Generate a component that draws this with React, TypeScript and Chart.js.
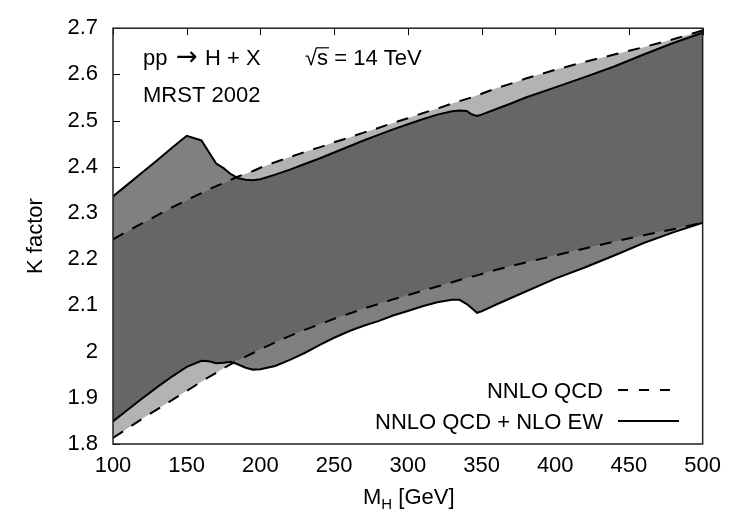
import React, { useEffect, useRef } from "react";
import { Chart, registerables } from "chart.js";

Chart.register(...registerables);

// Higgs mass grid (GeV)
const massGrid = [100, 110, 120, 130, 140, 150, 160, 165, 170, 175, 180, 185, 190, 195, 200, 210, 220, 230, 240, 250, 260, 270, 280, 290, 300, 310, 320, 330, 335, 340, 343, 347, 350, 360, 370, 380, 400, 420, 440, 460, 480, 500];

// NNLO QCD band (dashed)
const nnloUpper = [2.243, 2.261, 2.278, 2.295, 2.312, 2.328, 2.343, 2.351, 2.358, 2.365, 2.372, 2.379, 2.385, 2.391, 2.398, 2.410, 2.421, 2.432, 2.442, 2.453, 2.463, 2.474, 2.484, 2.495, 2.505, 2.516, 2.526, 2.537, 2.542, 2.547, 2.550, 2.555, 2.558, 2.570, 2.580, 2.591, 2.610, 2.627, 2.643, 2.659, 2.676, 2.695];
const nnloLower = [1.813, 1.834, 1.855, 1.875, 1.895, 1.915, 1.935, 1.945, 1.954, 1.964, 1.973, 1.981, 1.989, 1.997, 2.005, 2.020, 2.034, 2.047, 2.059, 2.071, 2.082, 2.093, 2.103, 2.113, 2.122, 2.132, 2.141, 2.150, 2.155, 2.159, 2.162, 2.165, 2.168, 2.177, 2.185, 2.193, 2.208, 2.223, 2.238, 2.252, 2.265, 2.279];

// NNLO QCD + NLO EW band (solid)
const ewUpper = [2.336, 2.362, 2.388, 2.414, 2.441, 2.467, 2.457, 2.432, 2.407, 2.397, 2.384, 2.375, 2.372, 2.371, 2.373, 2.383, 2.394, 2.406, 2.418, 2.431, 2.444, 2.457, 2.469, 2.481, 2.492, 2.503, 2.513, 2.520, 2.522, 2.521, 2.514, 2.510, 2.513, 2.525, 2.537, 2.550, 2.572, 2.594, 2.617, 2.643, 2.668, 2.690];
const ewLower = [1.849, 1.874, 1.899, 1.923, 1.946, 1.967, 1.980, 1.979, 1.975, 1.976, 1.978, 1.972, 1.965, 1.961, 1.962, 1.969, 1.982, 1.997, 2.014, 2.030, 2.044, 2.056, 2.066, 2.078, 2.088, 2.098, 2.107, 2.112, 2.112, 2.103, 2.095, 2.084, 2.087, 2.102, 2.116, 2.130, 2.158, 2.182, 2.208, 2.235, 2.258, 2.279];

const xTickValues = [100, 150, 200, 250, 300, 350, 400, 450, 500];
const yTickValues = [1.8, 1.9, 2.0, 2.1, 2.2, 2.3, 2.4, 2.5, 2.6, 2.7];

const legendLabels = ["NNLO QCD", "NNLO QCD + NLO EW"];
const processParts = ["pp", "\u2192", "H + X"];
const pdfLabel = "MRST 2002";
const energyLabel = "= 14 TeV";

const FONT = '"Liberation Sans", Arial, Helvetica, sans-serif';
const FS = 22;
const DARK = "#666666";
const MEDIUM = "#808080";
const LIGHT = "#b3b3b3";

const pts = (ys: number[]) => massGrid.map((x, i) => ({ x, y: ys[i] }));

const decorPlugin = {
  id: "decor",
  beforeDraw(chart: any) {
    const { ctx, chartArea } = chart;
    const x = chart.scales.x;
    const y = chart.scales.y;
    ctx.save();
    ctx.strokeStyle = "#000";
    ctx.lineWidth = 1;
    ctx.beginPath();
    yTickValues.forEach((v) => {
      const py = Math.round(y.getPixelForValue(v)) + 0.5;
      ctx.moveTo(chartArea.left, py);
      ctx.lineTo(chartArea.left + 7, py);
    });
    xTickValues.forEach((v) => {
      const px = Math.round(x.getPixelForValue(v)) + 0.5;
      ctx.moveTo(px, chartArea.top);
      ctx.lineTo(px, chartArea.top + 7);
    });
    ctx.stroke();
    ctx.restore();
  },
  afterDraw(chart: any) {
    const { ctx, chartArea } = chart;
    const { left, right, top, bottom } = chartArea;
    ctx.save();
    // frame
    ctx.strokeStyle = "#222";
    ctx.lineWidth = 1.5;
    ctx.strokeRect(left, top, right - left, bottom - top);

    ctx.fillStyle = "#000";
    ctx.font = `${FS}px ${FONT}`;
    ctx.textBaseline = "alphabetic";
    ctx.textAlign = "left";
    const line1 = top + 37;
    // pp -> H + X
    ctx.fillText(processParts[0], left + 30, line1);
    ctx.save();
    ctx.font = `26px "DejaVu Sans", sans-serif`;
    ctx.textAlign = "center";
    ctx.fillText(processParts[1], left + 74, line1);
    ctx.restore();
    ctx.fillText(processParts[2], left + 92, line1);
    // MRST 2002
    ctx.fillText(pdfLabel, left + 30, top + 74);
    // sqrt(s) = 14 TeV
    const sx = left + 192;
    const rootW = ctx.measureText("\u221A").width;
    ctx.fillText("\u221A", sx, line1);
    const sW = ctx.measureText("s").width;
    ctx.fillText("s", sx + rootW, line1);
    const rootM = ctx.measureText("\u221A");
    const asc = rootM.actualBoundingBoxAscent || 18;
    ctx.strokeStyle = "#000";
    ctx.lineWidth = 1.2;
    ctx.beginPath();
    ctx.moveTo(sx + rootW - 1, line1 - asc + 0.6);
    ctx.lineTo(sx + rootW + sW + 1, line1 - asc + 0.6);
    ctx.stroke();
    ctx.fillText(" " + energyLabel, sx + rootW + sW, line1);

    // legend
    ctx.textAlign = "right";
    const legX = 603;
    const rows = [390, 421];
    ctx.fillText(legendLabels[0], legX, rows[0] + 8);
    ctx.fillText(legendLabels[1], legX, rows[1] + 8);
    ctx.lineWidth = 2;
    ctx.strokeStyle = "#000";
    ctx.beginPath();
    ctx.setLineDash([10, 11]);
    ctx.moveTo(618, rows[0]);
    ctx.lineTo(679, rows[0]);
    ctx.stroke();
    ctx.setLineDash([]);
    ctx.beginPath();
    ctx.moveTo(618, rows[1]);
    ctx.lineTo(679, rows[1]);
    ctx.stroke();

    // x-axis title M_H [GeV]
    ctx.textAlign = "left";
    const mx = 363;
    const mb = 504;
    ctx.font = `${FS}px ${FONT}`;
    ctx.fillText("M", mx, mb);
    const mW = ctx.measureText("M").width;
    ctx.font = `15px ${FONT}`;
    ctx.fillText("H", mx + mW, mb + 5);
    const hW = ctx.measureText("H").width;
    ctx.font = `${FS}px ${FONT}`;
    ctx.fillText(" [GeV]", mx + mW + hW, mb);

    // y-axis title
    ctx.save();
    ctx.translate(36, (top + bottom) / 2);
    ctx.rotate(-Math.PI / 2);
    ctx.textAlign = "center";
    ctx.textBaseline = "middle";
    ctx.fillText("K factor", 0, 0);
    ctx.restore();

    ctx.restore();
  },
};

export default function App() {
  const canvasRef = useRef<HTMLCanvasElement | null>(null);

  useEffect(() => {
    if (!canvasRef.current) return;
    const overlapUpper = massGrid.map((x, i) => ({ x, y: Math.min(nnloUpper[i], ewUpper[i]) }));
    const overlapLower = massGrid.map((x, i) => ({ x, y: Math.max(nnloLower[i], ewLower[i]) }));
    const hidden = { borderWidth: 0, borderColor: "rgba(0,0,0,0)", pointRadius: 0 };
    const chart = new Chart(canvasRef.current, {
      type: "line",
      data: {
        datasets: [
          { label: "overlap", data: overlapUpper, fill: "+1", backgroundColor: DARK, ...hidden, tension: 0 },
          { label: "overlapLow", data: overlapLower, fill: false, ...hidden, tension: 0 },
          {
            label: "NNLO QCD",
            data: pts(nnloUpper),
            fill: "+1",
            backgroundColor: LIGHT,
            borderColor: "#000",
            borderWidth: 2,
            borderDash: [12, 10],
            pointRadius: 0,
            tension: 0,
          },
          {
            label: "NNLO QCD low",
            data: pts(nnloLower),
            fill: false,
            borderColor: "#000",
            borderWidth: 2,
            borderDash: [12, 10],
            pointRadius: 0,
            tension: 0,
          },
          {
            label: "NNLO QCD + NLO EW",
            data: pts(ewUpper),
            fill: "+1",
            backgroundColor: MEDIUM,
            borderColor: "#000",
            borderWidth: 2,
            pointRadius: 0,
            tension: 0,
          },
          {
            label: "NNLO QCD + NLO EW low",
            data: pts(ewLower),
            fill: false,
            borderColor: "#000",
            borderWidth: 2,
            pointRadius: 0,
            tension: 0,
          },
        ],
      },
      options: {
        animation: false,
        responsive: false,
        devicePixelRatio: 1,
        layout: { padding: { left: 0, top: 16, right: 24, bottom: 0 } },
        plugins: {
          legend: { display: false },
          tooltip: { enabled: false },
          filler: { drawTime: "beforeDatasetsDraw" },
        },
        scales: {
          x: {
            type: "linear",
            min: 100,
            max: 500,
            afterBuildTicks: (s: any) => {
              s.ticks = xTickValues.map((v) => ({ value: v }));
            },
            afterFit: (s: any) => {
              s.height = 67;
            },
            grid: { display: false, drawTicks: false },
            border: { display: false },
            ticks: {
              color: "#000",
              font: { family: FONT, size: FS },
              padding: 9,
              maxRotation: 0,
              autoSkip: false,
              callback: (v: any) => String(v),
            },
          },
          y: {
            type: "linear",
            min: 1.8,
            max: 2.7,
            afterBuildTicks: (s: any) => {
              s.ticks = yTickValues.map((v) => ({ value: v }));
            },
            afterFit: (s: any) => {
              s.width = 113;
            },
            grid: { display: false, drawTicks: false },
            border: { display: false },
            ticks: {
              color: "#000",
              font: { family: FONT, size: FS },
              padding: 15,
              autoSkip: false,
              callback: (v: any) => String(Math.round(Number(v) * 10) / 10),
            },
          },
        },
      },
      plugins: [decorPlugin],
    } as any);
    return () => chart.destroy();
  }, []);

  return (
    <div style={{ position: "fixed", left: 0, top: 0, width: 730, height: 511, background: "#fff" }}>
      <canvas ref={canvasRef} width={730} height={511} style={{ display: "block" }} />
    </div>
  );
}
